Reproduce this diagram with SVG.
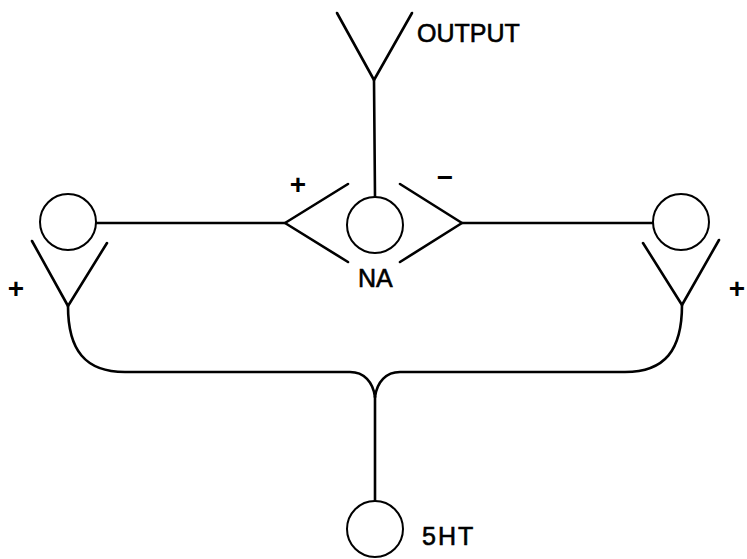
<svg xmlns="http://www.w3.org/2000/svg" width="747" height="559" viewBox="0 0 747 559">
  <style>
    .ln { fill: none; stroke: #000; stroke-width: 2.6; stroke-linecap: round; stroke-linejoin: round; }
    .cell { fill: #fff; stroke: #000; stroke-width: 2; }
    .lbl { font-family: "Liberation Sans", Arial, sans-serif; font-size: 25px; fill: #000; stroke: #000; stroke-width: 0.6; }
    .sign { font-family: "Liberation Sans", Arial, sans-serif; font-size: 28px; font-weight: bold; fill: #000; text-anchor: middle; }
  </style>

  <g id="connectors">
    <!-- output synapse and axon to NA -->
    <path class="ln" d="M337,13 L374,80 L412,13"/>
    <path class="ln" d="M374,80 L375,197"/>
    <!-- left input to NA -->
    <path class="ln" d="M96,223 L285,223"/>
    <path class="ln" d="M348,184 L285,223 L348,262"/>
    <!-- right input to NA -->
    <path class="ln" d="M653,223 L462,223"/>
    <path class="ln" d="M400,184 L462,223 L400,262"/>
    <!-- side synapses -->
    <path class="ln" d="M32,241 L68,306 L107,243"/>
    <path class="ln" d="M643,243 L682,305 L719,240"/>
    <!-- 5HT projection branching to both sides -->
    <path class="ln" d="M68,306 C68,350 85,372 125,372 L350,372 C364,372 373,382 375,397"/>
    <path class="ln" d="M682,305 C682,350 665,372 625,372 L400,372 C386,372 377,382 375,397"/>
    <path class="ln" d="M375,397 L375,501"/>
  </g>

  <g id="left-cell">
    <circle class="cell" cx="68" cy="222" r="28"/>
  </g>
  <g id="na-cell">
    <circle class="cell" cx="375" cy="225" r="28"/>
    <text class="lbl" x="358" y="287">NA</text>
  </g>
  <g id="right-cell">
    <circle class="cell" cx="681" cy="222" r="28"/>
  </g>
  <g id="ht-cell">
    <circle class="cell" cx="375" cy="529" r="28"/>
    <text class="lbl" x="422" y="545" letter-spacing="2">5HT</text>
  </g>

  <g id="labels">
    <text class="lbl" x="417" y="42">OUTPUT</text>
    <text class="sign" x="298" y="194">+</text>
    <text class="sign" x="445" y="187">−</text>
    <text class="sign" x="16" y="298">+</text>
    <text class="sign" x="737" y="298">+</text>
  </g>
</svg>
